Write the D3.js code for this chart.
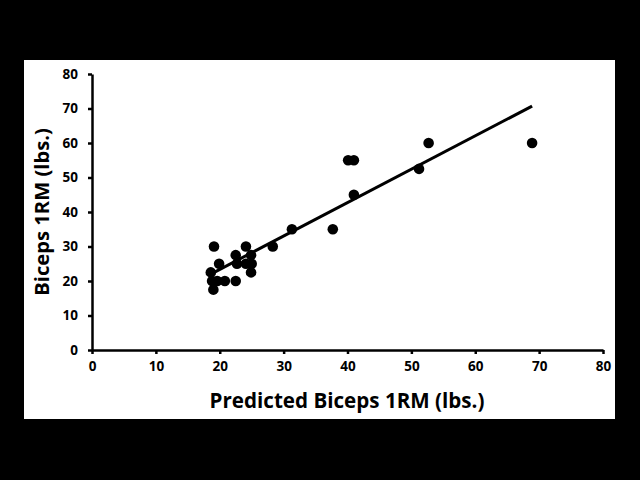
<!DOCTYPE html>
<html lang="en">
<head>
  <meta charset="UTF-8">
  <title>Biceps 1RM vs predicted</title>
  <style>
    body { margin: 0; background: #000; }
    text { font-family: "Open Sans", "Liberation Sans", sans-serif; font-weight: bold; }
  </style>
</head>
<body>
  <script src="https://d3js.org/d3.v7.min.js"></script>
  <script>

    const predicted = [19.1, 18.6, 18.8, 19.0, 19.9, 19.6, 20.8, 22.5, 22.5, 22.7, 24.1, 24.1, 24.9, 25.0, 24.9, 28.3, 31.3, 37.7, 40.1, 41.0, 41.0, 51.2, 52.7, 68.9];
    const actual    = [30, 22.5, 20, 17.5, 25, 20, 20, 20, 27.5, 25, 30, 25, 27.5, 25, 22.5, 30, 35, 35, 55, 55, 45, 52.5, 60, 60];

    // trendlijn
    const slope = 0.968;
    const intercept = 4.0;

    const ticks = [0, 10, 20, 30, 40, 50, 60, 70, 80];

    const svgWidth = 640, svgHeight = 480;

    const svg = d3.select('body').append('svg')
      .attr('width', svgWidth)
      .attr('height', svgHeight);

    svg.append('rect')
      .attr('x', 0).attr('y', 0)
      .attr('width', svgWidth).attr('height', svgHeight)
      .attr('fill', '#000');

    // witte paneel
    svg.append('rect')
      .attr('x', 24).attr('y', 60)
      .attr('width', 591).attr('height', 359)
      .attr('fill', '#fff');

    const xScale = d3.scaleLinear().domain([0, 80]).range([92, 603]);
    const yScale = d3.scaleLinear().domain([0, 80]).range([350, 74]);

    const xAxis = svg.append('g')
      .attr('transform', `translate(0,${yScale(0)})`)
      .call(d3.axisBottom(xScale).tickValues(ticks).tickSize(4).tickPadding(7).tickSizeOuter(0));

    const yAxis = svg.append('g')
      .attr('transform', `translate(${xScale(0)},0)`)
      .call(d3.axisLeft(yScale).tickValues(ticks).tickSize(4).tickPadding(10).tickSizeOuter(0));

    [xAxis, yAxis].forEach(a => {
      a.select('.domain').attr('stroke', '#000').attr('stroke-width', 2.5);
      a.selectAll('.tick line').attr('stroke', '#000').attr('stroke-width', 2.5);
      a.selectAll('.tick text')
        .attr('fill', '#000')
        .style('font-size', '13.5px');
    });

    // trendlijn over het bereik van de data
    const xExtent = d3.extent(predicted);
    svg.append('line')
      .attr('x1', xScale(xExtent[0]))
      .attr('y1', yScale(slope * xExtent[0] + intercept))
      .attr('x2', xScale(xExtent[1]))
      .attr('y2', yScale(slope * xExtent[1] + intercept))
      .attr('stroke', '#000')
      .attr('stroke-width', 3);

    svg.append('g').selectAll('circle')
      .data(predicted.map((p, i) => ({ x: p, y: actual[i] })))
      .enter().append('circle')
      .attr('cx', d => xScale(d.x))
      .attr('cy', d => yScale(d.y))
      .attr('r', 5.3)
      .attr('fill', '#000');

    // as-titels
    svg.append('text')
      .attr('x', 347).attr('y', 408)
      .attr('text-anchor', 'middle')
      .style('font-size', '20.6px')
      .text('Predicted Biceps 1RM (lbs.)');

    svg.append('text')
      .attr('transform', 'translate(49,212) rotate(-90)')
      .attr('text-anchor', 'middle')
      .style('font-size', '20.2px')
      .text('Biceps 1RM (lbs.)');

  </script>
</body>
</html>
